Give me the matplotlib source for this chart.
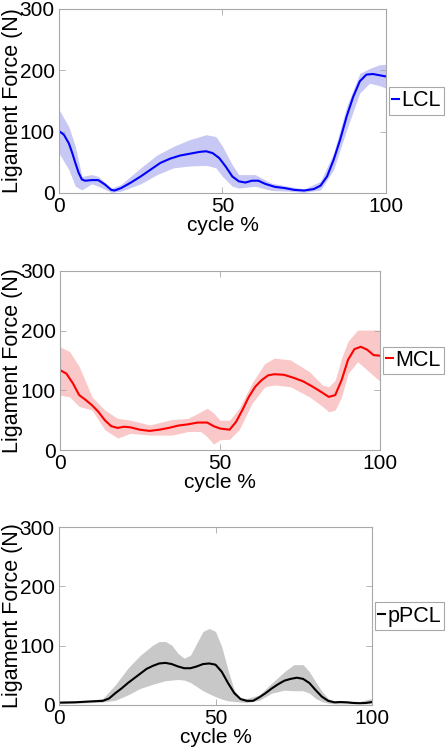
import matplotlib
matplotlib.use("Agg")
import matplotlib.pyplot as plt

plt.rcParams['font.family'] = ['Liberation Sans', 'DejaVu Sans']

# ---- LCL ----
lcl_x = [0, 1.5, 3, 4, 5, 6, 7, 8, 10, 12, 14, 16, 17, 19, 22, 25, 28, 31, 34, 37, 40, 43, 45, 47, 49, 51, 53, 55,
         57, 59, 61, 63, 66, 69, 72, 75, 78, 80, 82, 84, 86, 88, 90, 92, 94, 96, 98, 100]
lcl_mean = [101, 95, 81, 66, 49, 33, 22, 20, 21, 21, 14, 5, 4, 8, 17, 27, 38, 49, 56, 61, 64, 67, 68, 65, 57, 43, 27, 19,
            17, 20, 20, 15, 10, 8, 5, 4, 6.5, 12, 27, 54, 87, 125, 157, 182, 193, 194, 192, 190]
lcl_bx = [0, 3, 5, 7, 10, 12, 16, 19, 25, 30, 35, 40, 45, 48, 50, 53, 55, 60, 65, 70, 75, 80, 84, 88, 92, 95, 98, 100]
lcl_up = [136, 108, 76, 27, 30, 27, 8, 14, 41, 62, 76, 87, 95, 92, 76, 46, 30, 30, 16, 11, 6.5, 19, 65, 141, 195, 203, 209, 210]
lcl_lo = [65, 38, 11, 5, 15, 11, 1, 3, 15, 30, 41, 44, 45, 41, 27, 11, 8, 11, 4, 3, 1, 5, 38, 103, 163, 179, 175, 171]

# ---- MCL ----
mcl_x = [0, 2, 4, 6, 8, 10, 12, 14, 16, 18, 20, 22, 25, 28, 31, 34, 37, 40, 43, 46, 48, 50, 53, 55, 57,
         59, 61, 63, 65, 67, 70, 73, 76, 79, 82, 84, 86, 88, 90, 92, 94, 96, 98, 100]
mcl_mean = [134, 128, 112, 92, 84, 75, 64, 50, 40, 37, 39, 38, 34, 32, 34, 37, 41, 43, 46, 46, 40, 36, 34, 47, 67,
            89, 106, 117, 125, 127, 126, 121, 115, 106, 96, 89, 92, 117, 151, 169, 173, 168, 159, 158]
mcl_bx = [0, 3, 6, 10, 14, 18, 22, 28, 35, 40, 44, 46, 48, 50, 53, 56, 60, 64, 67, 72, 78, 82, 84, 86, 88, 90, 93, 96, 100]
mcl_up = [173, 165, 140, 89, 67, 53, 50, 42, 51, 53, 64, 70, 62, 50, 50, 70, 112, 145, 154, 151, 131, 109, 106, 117, 154, 182, 201, 201, 201]
mcl_lo = [92, 89, 73, 67, 34, 20, 28, 25, 25, 31, 31, 22, 10, 17, 18, 34, 78, 106, 109, 106, 89, 73, 64, 67, 89, 128, 148, 134, 115]

# ---- pPCL ----
ppcl_x = [0, 5, 10, 14, 16, 18, 20, 22, 24, 26, 28, 30, 32, 34, 36, 38, 40, 42, 44, 46, 48, 50, 52, 54, 56,
          58, 60, 62, 64, 66, 68, 70, 72, 74, 76, 78, 80, 82, 84, 86, 88, 90, 92, 94, 96, 98, 100]
ppcl_mean = [4, 4.5, 6, 7, 11, 20, 28, 37, 45, 53, 61, 66, 70, 71, 69, 65, 62, 62, 65, 69, 70, 68, 56, 37, 20,
             10, 7, 7, 13, 20, 28, 35, 41, 44, 46, 44, 37, 25, 14, 7, 4.5, 5, 4.5, 3.4, 3, 3.4, 5]
ppcl_bx = [0, 10, 14, 18, 22, 26, 30, 32, 34, 36, 38, 40, 42, 44, 46, 48, 50, 52, 54, 56, 58, 60, 64, 68, 72,
           75, 78, 80, 82, 84, 86, 88, 92, 96, 100]
ppcl_up = [6, 8, 11, 34, 62, 84, 101, 107, 107, 101, 87, 79, 84, 104, 124, 129, 124, 98, 59, 25, 12, 11, 17, 37, 56,
           68, 68, 56, 39, 23, 11, 7, 7, 6, 11]
ppcl_lo = [2, 4, 5, 8, 17, 28, 35, 38, 41, 42, 43, 42, 38, 31, 24, 19, 14, 10, 7, 6, 5, 4, 8, 20, 25,
           24, 24, 20, 11, 6, 3, 2, 2, 2, 2]

labels = ['LCL', 'MCL', 'pPCL']
line_colors = ['#0000ff', '#ff0000', '#000000']
band_colors = ['#c8c8f5', '#fac8c8', '#c8c8c8']
x_ticks = [0, 50, 100]
y_ticks = [0, 100, 200, 300]

series = [
    (lcl_x, lcl_mean, lcl_bx, lcl_up, lcl_lo),
    (mcl_x, mcl_mean, mcl_bx, mcl_up, mcl_lo),
    (ppcl_x, ppcl_mean, ppcl_bx, ppcl_up, ppcl_lo),
]
positions = [
    [0.1323, 0.7427, 0.733, 0.2453],
    [0.1345, 0.400, 0.7175, 0.2387],
    [0.1323, 0.060, 0.7018, 0.2373],
]

fig = plt.figure(figsize=(4.46, 7.5), dpi=100)
fs_tick = 15
fs_ylab = 15.5
fs_leg = 15.5
spine_col = '#a8a8a8'
W = 446.0
for (xm, ym, xb, up, lo), lab, lc, bc, pos in zip(series, labels, line_colors, band_colors, positions):
    ax = fig.add_axes(pos)
    ax.fill_between(xb, lo, up, color=bc, linewidth=0)
    ax.plot(xm, ym, color=lc, linewidth=1.5, label=lab)
    ax.set_xlim(0, 100)
    ax.set_ylim(0, 300)
    ax.set_xticks(x_ticks)
    ax.set_yticks(y_ticks)
    ax.tick_params(direction='in', top=True, right=True, length=4, width=0.6,
                   color=spine_col, labelsize=fs_tick, pad=3)
    for s in ax.spines.values():
        s.set_color(spine_col)
        s.set_linewidth(0.8)
    ax.set_xlabel('cycle %', fontsize=fs_tick, labelpad=0)
    ax.set_ylabel('Ligament Force (N)', fontsize=fs_ylab)
    left_px = pos[0] * W
    width_px = pos[2] * W
    ax.yaxis.set_label_coords((23 - left_px) / width_px, 0.5)
    leg = ax.legend(loc='center left', bbox_to_anchor=(1.0, 0.5), fontsize=fs_leg,
                    handlelength=0.3, handletextpad=0.1, borderpad=0.15,
                    borderaxespad=0.15, fancybox=False, framealpha=1)
    leg.get_frame().set_edgecolor(spine_col)
    leg.get_frame().set_linewidth(0.8)

fig.savefig('out.png', dpi=100)
